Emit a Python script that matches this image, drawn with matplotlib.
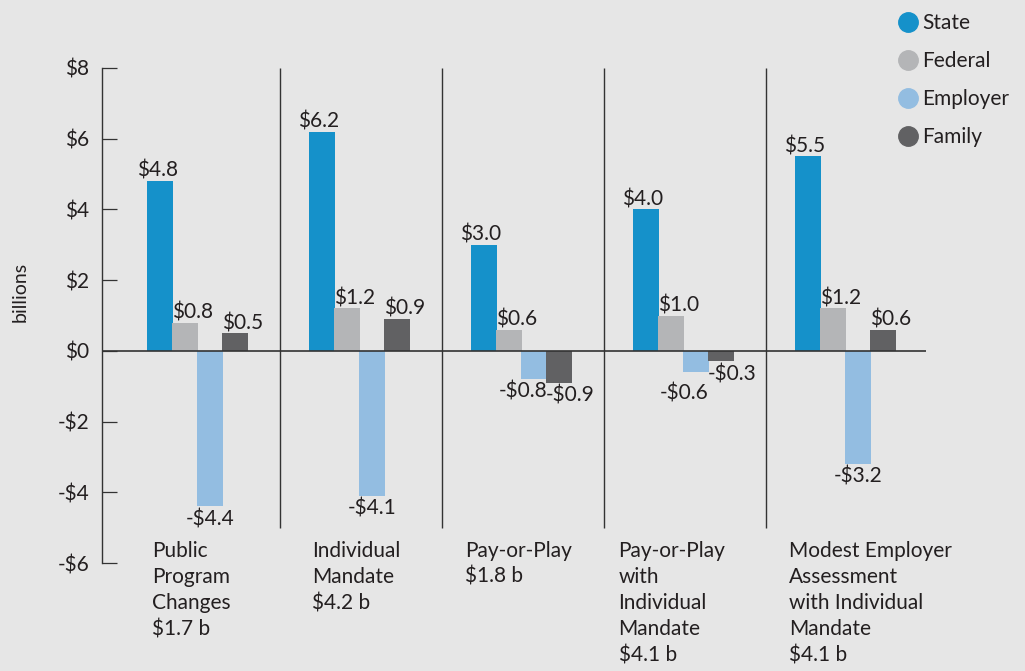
import matplotlib.pyplot as plt
from matplotlib.lines import Line2D

plt.rcParams['font.family'] = ['Lato', 'DejaVu Sans']

# datos del grafico (billones de dolares)
scenarios = ['Public\nProgram\nChanges\n$1.7 b',
             'Individual\nMandate\n$4.2 b',
             'Pay-or-Play\n$1.8 b',
             'Pay-or-Play\nwith\nIndividual\nMandate\n$4.1 b',
             'Modest Employer\nAssessment\nwith Individual\nMandate\n$4.1 b']
series = ['State', 'Federal', 'Employer', 'Family']
state = [4.8, 6.2, 3.0, 4.0, 5.5]
federal = [0.8, 1.2, 0.6, 1.0, 1.2]
employer = [-4.4, -4.1, -0.8, -0.6, -3.2]
family = [0.5, 0.9, -0.9, -0.3, 0.6]
yticks = [8, 6, 4, 2, 0, -2, -4, -6]

colors = ['#1591ca', '#b4b5b7', '#93bde1', '#616163']
bg = '#e6e6e6'
ink = '#231f20'


def money(v):
    return f'-${abs(v):.1f}' if v < 0 else f'${v:.1f}'


fig = plt.figure(figsize=(10.25, 6.71), dpi=100, facecolor=bg)
ax = fig.add_axes([102 / 1025, 1 - 563 / 671, 824 / 1025, 495 / 671], facecolor=bg)

offset = 0.178
step = 0.155
width = 0.16

for s, vals in enumerate([state, federal, employer, family]):
    for i, v in enumerate(vals):
        left = i + offset + s * step
        ax.bar(left, v, width=width, align='edge', color=colors[s], zorder=2)

        # posicion de la etiqueta de valor
        dx, dy = 0, 3
        va = 'baseline'
        if s == 0:
            x, ha, dx = left + width / 2, 'center', -2
        elif s == 2:
            if abs(v) < 1:
                x, ha = left + width, 'right'
            else:
                x, ha = left + width / 2, 'center'
        else:
            x, ha = left, 'left'
        if v < 0:
            va, dy = 'top', -2
            if s == 2 and i == 3:
                dy = -8
        ax.annotate(money(v), (x, v), xytext=(dx, dy), textcoords='offset points',
                    ha=ha, va=va, fontsize=15, color=ink, zorder=3)

# linea del cero y separadores
ax.axhline(0, color='#333333', lw=1.2, zorder=3)
ax.vlines([1, 2, 3, 4], -5, 8, color='#333333', lw=1, zorder=1)

# nombres de escenarios debajo del grafico
label_dx = [0.21, 0.20, 0.14, 0.09, 0.14]
for i, name in enumerate(scenarios):
    ax.text(i + label_dx[i], -5.37, name, ha='left', va='top', fontsize=15,
            color=ink, linespacing=1.39)

ax.set_xlim(-0.099, 4.988)
ax.set_ylim(-6, 8)
ax.set_yticks(yticks)
ax.set_yticklabels([money(t).replace('.0', '') for t in yticks], fontsize=15, color=ink)
ax.set_xticks([])
ax.tick_params(axis='y', direction='in', length=11, width=0.9, pad=9, color='#333333')

for side in ['top', 'right', 'bottom']:
    ax.spines[side].set_visible(False)
ax.spines['left'].set_color('#333333')
ax.spines['left'].set_linewidth(1)

fig.text(20 / 1025, 1 - 292 / 671, 'billions', rotation=90, ha='center', va='center',
         fontsize=14, color=ink)

handles = [Line2D([], [], marker='o', ls='', markersize=14, color=c) for c in colors]
fig.legend(handles, series, loc='upper left', bbox_to_anchor=(887 / 1025, 1 - 5 / 671),
           frameon=False, fontsize=15, handletextpad=0.1, labelspacing=0.86,
           handlelength=1.2, borderaxespad=0, labelcolor=ink)

plt.savefig('out.png', dpi=100, facecolor=bg)
